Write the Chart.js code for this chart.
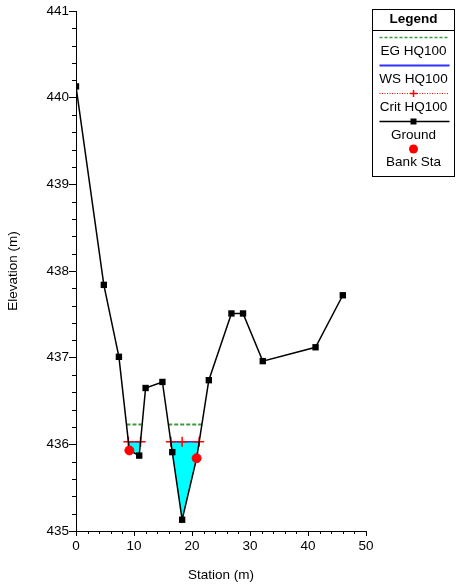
<!DOCTYPE html>
<html>
<head>
<meta charset="utf-8">
<script src="https://cdn.jsdelivr.net/npm/chart.js@4.4.1/dist/chart.umd.min.js"></script>
<style>
  body { margin: 0; background: #fff; }
  #chart { display: block; }
</style>
</head>
<body>
<canvas id="chart" width="456" height="587"></canvas>
<script>
// cross section values
const stations = [0, 4.8, 7.4, 9.2, 10.9, 12.0, 14.9, 16.6, 18.3, 20.8, 22.9, 26.8, 28.8, 32.2, 41.3, 46.0];
const groundElev = [440.13, 437.84, 437.01, 435.93, 435.87, 436.65, 436.72, 435.91, 435.13, 435.84, 436.74, 437.51, 437.51, 436.96, 437.12, 437.72];
const bankStations = [9.2, 20.8];
const wsElev = 436.03;
const critElev = 436.03;
const egElev = 436.23;
const wsExtents = [[9.03, 11.13], [16.35, 21.24]];
const egExtents = [[8.7, 11.3], [15.9, 21.8]];
const critStations = [[9.03, 11.13], [16.35, 18.3, 21.24]];
const legendLabels = ['EG HQ100', 'WS HQ100', 'Crit HQ100', 'Ground', 'Bank Sta'];

const FONT = 'Arial, "Liberation Sans", sans-serif';

const ground = stations.map((s, i) => ({x: s, y: groundElev[i]}));
const banks = bankStations.map(s => ({x: s, y: groundElev[stations.indexOf(s)]}));

// flat lines with gaps between the two wetted parts
function pieces(extents, elev) {
  const out = [];
  extents.forEach((ext, k) => {
    if (k > 0) out.push({x: (extents[k - 1][1] + ext[0]) / 2, y: null});
    ext.forEach(s => out.push({x: s, y: elev}));
  });
  return out;
}

// water area: surface ends plus the ground points under it
function waterShape(ext) {
  const pts = [{x: ext[0], y: wsElev}];
  ground.forEach(p => { if (p.x > ext[0] && p.x < ext[1]) pts.push(p); });
  pts.push({x: ext[1], y: wsElev});
  return pts;
}

const datasets = wsExtents.map(ext => ({
  label: 'water',
  data: waterShape(ext),
  borderWidth: 0,
  pointRadius: 0,
  backgroundColor: '#00ffff',
  fill: 'shape',
  order: 10
}));

datasets.push({
  label: legendLabels[0],
  data: pieces(egExtents, egElev),
  borderColor: '#3c9a3c',
  borderWidth: 2,
  borderDash: [4, 2],
  pointRadius: 0,
  fill: false,
  order: 5
});
datasets.push({
  label: legendLabels[1],
  data: pieces(wsExtents, wsElev),
  borderColor: '#3030ff',
  borderWidth: 1.5,
  pointRadius: 0,
  fill: false,
  order: 4
});
datasets.push({
  label: legendLabels[2],
  data: pieces(critStations, critElev),
  borderColor: '#ff0000',
  borderWidth: 1.2,
  borderDash: [1.5, 1.5],
  pointStyle: 'cross',
  pointRadius: 5,
  pointBorderWidth: 1.5,
  pointBorderColor: '#ff0000',
  fill: false,
  order: 3
});
datasets.push({
  label: legendLabels[3],
  data: ground,
  borderColor: '#000',
  borderWidth: 1.5,
  pointStyle: 'rect',
  pointRadius: ctx => bankStations.includes(stations[ctx.dataIndex]) ? 0 : 4.5,
  pointBackgroundColor: '#000',
  pointBorderColor: '#000',
  pointBorderWidth: 0,
  fill: false,
  order: 2
});
datasets.push({
  label: legendLabels[4],
  data: banks,
  showLine: false,
  pointStyle: 'circle',
  pointRadius: 4.5,
  pointBackgroundColor: '#ff0000',
  pointBorderColor: '#ff0000',
  order: 1
});

// short ticks between the labelled ones
const minorTicks = {
  id: 'minorTicks',
  afterDraw(chart) {
    const c = chart.ctx, xs = chart.scales.x, ys = chart.scales.y;
    c.save();
    c.strokeStyle = '#000';
    c.lineWidth = 1;
    c.beginPath();
    for (let i = 0; i <= 30; i++) {
      if (i % 5 === 0) continue;
      const py = Math.round(ys.getPixelForValue(435 + i * 0.2)) + 0.5;
      c.moveTo(xs.left - 4, py);
      c.lineTo(xs.left, py);
    }
    for (let i = 0; i <= 25; i++) {
      if (i % 5 === 0) continue;
      const px = Math.round(xs.getPixelForValue(i * 2)) + 0.5;
      c.moveTo(px, ys.bottom);
      c.lineTo(px, ys.bottom + 3);
    }
    c.stroke();
    c.restore();
  }
};

// boxed legend on the right like the original
const boxLegend = {
  id: 'boxLegend',
  afterDraw(chart) {
    const c = chart.ctx;
    const L = 372.5, T = 9.5, W = 82, H = 167;
    const x1 = L + 7, x2 = L + W - 5, cx = L + W / 2;
    c.save();
    c.fillStyle = '#fff';
    c.fillRect(L, T, W, H);
    c.strokeStyle = '#000';
    c.lineWidth = 1;
    c.strokeRect(L, T, W, H);
    c.beginPath();
    c.moveTo(L, 30.5);
    c.lineTo(L + W, 30.5);
    c.stroke();
    c.fillStyle = '#000';
    c.textAlign = 'center';
    c.textBaseline = 'middle';
    c.font = 'bold 13.5px ' + FONT;
    c.fillText('Legend', cx, 19);

    const sample = (y, color, width, dash) => {
      c.save();
      c.strokeStyle = color;
      c.lineWidth = width;
      c.setLineDash(dash);
      c.beginPath();
      c.moveTo(x1, y);
      c.lineTo(x2, y);
      c.stroke();
      c.restore();
    };
    c.font = '13.5px ' + FONT;
    const rows = [37.5, 65.5, 93.5, 121.5, 149];
    const texts = [51, 79, 107, 135, 162.5];
    sample(rows[0], '#3c9a3c', 1.5, [3, 2]);
    sample(rows[1], '#3030ff', 1.8, []);
    sample(rows[2], '#ff0000', 1, [1, 1.5]);
    c.strokeStyle = '#ff0000';
    c.lineWidth = 1.5;
    c.beginPath();
    c.moveTo(cx - 3.5, rows[2]); c.lineTo(cx + 3.5, rows[2]);
    c.moveTo(cx, rows[2] - 3.5); c.lineTo(cx, rows[2] + 3.5);
    c.stroke();
    sample(rows[3], '#000', 1.5, []);
    c.fillStyle = '#000';
    c.fillRect(cx - 3, rows[3] - 3, 6, 6);
    c.fillStyle = '#ff0000';
    c.beginPath();
    c.arc(cx, rows[4], 4.5, 0, Math.PI * 2);
    c.fill();
    c.fillStyle = '#000';
    legendLabels.forEach((t, i) => c.fillText(t, cx, texts[i]));
    c.restore();
  }
};

const ctx = document.getElementById('chart').getContext('2d');
const myChart = new Chart(ctx, {
  type: 'line',
  data: {datasets: datasets},
  options: {
    responsive: false,
    animation: false,
    layout: {padding: {top: 11, right: 90, left: 0, bottom: 0}},
    plugins: {legend: {display: false}, tooltip: {enabled: false}},
    scales: {
      x: {
        type: 'linear',
        min: 0, max: 50,
        afterFit: s => { s.height = 56; },
        border: {display: true, color: '#000', width: 1},
        grid: {display: true, drawOnChartArea: false, tickLength: 5, color: '#000'},
        ticks: {stepSize: 10, color: '#000', padding: 2, font: {family: FONT, size: 13.5}},
        title: {display: true, text: 'Station (m)', color: '#000', font: {family: FONT, size: 13.5}, padding: {top: 3}}
      },
      y: {
        type: 'linear',
        min: 435, max: 441,
        afterFit: s => { s.width = 76; },
        border: {display: true, color: '#000', width: 1},
        grid: {display: true, drawOnChartArea: false, tickLength: 7, color: '#000'},
        ticks: {stepSize: 1, color: '#000', padding: 0, font: {family: FONT, size: 13.5}},
        title: {display: true, text: 'Elevation (m)', color: '#000', font: {family: FONT, size: 13.5}, padding: {top: 5, bottom: 0}}
      }
    }
  },
  plugins: [minorTicks, boxLegend]
});
</script>
</body>
</html>
